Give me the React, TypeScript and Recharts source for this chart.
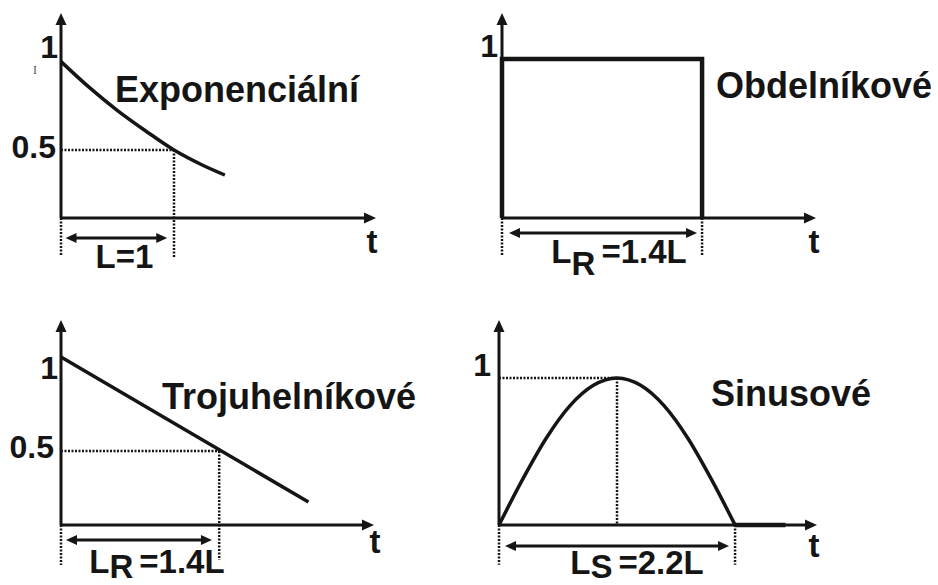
import { Line, LineChart, ReferenceLine, XAxis, YAxis } from "recharts";

const INK = "#151515";
const FONT = "'Liberation Sans', Arial, Helvetica, sans-serif";

// Exponenciální
const expT = [0, 0.25, 0.5, 0.75, 1, 1.25, 1.45];
const expV = [1.15, 0.96, 0.79, 0.64, 0.5, 0.39, 0.316];
// Obdelníkové
const rectT = [0, 0, 1.4, 1.4];
const rectV = [0, 1.17, 1.17, 0];
// Trojuhelníkové
const triT = [0, 2.19];
const triV = [1.135, 0.155];
// Sinusové
const sinT = [0, 0.22, 0.44, 0.66, 0.88, 1.1, 1.32, 1.54, 1.76, 1.98, 2.2];
const sinV = [0, 0.31, 0.59, 0.81, 0.95, 1, 0.95, 0.81, 0.59, 0.31, 0];
const tailT = [2.2, 2.67];
const tailV = [0, 0];

const titles = ["Exponenciální", "Obdelníkové", "Trojuhelníkové", "Sinusové"];
const tickOne = "1";
const tickHalf = "0.5";
const axisName = "t";

type Pt = { x: number; y: number };
type Row = { t: number; v?: number; w?: number };
type TickLabel = { value: number; text: string; dx: number; dy: number };
type DimText = { main: string; sub: string; rest: string; dx: number; dy: number; subDy: number };

type Panel = {
  box: { left: number; top: number; w: number; h: number };
  ox: number;
  oy: number;
  tipX: number;
  tipY: number;
  sx: number;
  sy: number;
  data: Row[];
  curve: "monotone" | "linear";
  lineWidth: number;
  ticks: TickLabel[];
  dotted: [Pt, Pt][];
  dim: { y: number; x1: number; x2: number; text: DimText };
  tPos: { dx: number; dy: number };
};

const zip = (ts: number[], vs: number[]): Row[] => ts.map((t, i) => ({ t, v: vs[i] }));
const zipTail = (ts: number[], vs: number[]): Row[] => ts.map((t, i) => ({ t, w: vs[i] }));

const head = (x: number, y: number, ux: number, uy: number, len = 11, half = 5) => {
  const bx = x - ux * len;
  const by = y - uy * len;
  const px = -uy * half;
  const py = ux * half;
  return `${x},${y} ${bx + px},${by + py} ${bx - px},${by - py}`;
};

function AxisArrow(p: any) {
  const { x1, y1, x2, y2, name, tdx, tdy } = p;
  const d = Math.hypot(x2 - x1, y2 - y1) || 1;
  const ux = (x2 - x1) / d;
  const uy = (y2 - y1) / d;
  return (
    <g>
      <line x1={x1} y1={y1} x2={x2 - ux * 8} y2={y2 - uy * 8} stroke={INK} strokeWidth={3} />
      <polygon points={head(x2, y2, ux, uy, 12, 5.5)} fill={INK} />
      {name ? (
        <text x={x2 + tdx} y={y2 + tdy} textAnchor="middle" fontFamily={FONT} fontWeight={700} fontSize={33} fill={INK}>
          {name}
        </text>
      ) : null}
    </g>
  );
}

function DimArrow(p: any) {
  const { x1, y1, x2, y2, txt } = p;
  const t = txt as DimText;
  const cx = (x1 + x2) / 2;
  return (
    <g>
      <line x1={x1 + 8} y1={y1} x2={x2 - 8} y2={y2} stroke={INK} strokeWidth={3} />
      <polygon points={head(x1, y1, -1, 0, 11, 5)} fill={INK} />
      <polygon points={head(x2, y2, 1, 0, 11, 5)} fill={INK} />
      <text x={cx + t.dx} y={y1 + t.dy} textAnchor="middle" fontFamily={FONT} fontWeight={700} fontSize={33} fill={INK}>
        {t.main}
        {t.sub ? <tspan dy={t.subDy}>{t.sub}</tspan> : null}
        <tspan dy={t.sub ? -t.subDy : 0} dx={t.sub ? 6 : 0}>
          {t.rest}
        </tspan>
      </text>
    </g>
  );
}

const makeTick = (labels: TickLabel[]) => (p: any) => {
  const lab = labels.find((l) => Math.abs(l.value - p.payload.value) < 1e-6);
  if (!lab) return <g />;
  return (
    <text x={p.x + lab.dx} y={p.y + lab.dy} textAnchor="end" fontFamily={FONT} fontWeight={700} fontSize={32} fill={INK}>
      {lab.text}
    </text>
  );
};

const panels: Panel[] = [
  {
    box: { left: 0, top: 0, w: 469, h: 292 },
    ox: 61, oy: 218, tipX: 376, tipY: 13, sx: 113, sy: 136,
    data: zip(expT, expV),
    curve: "monotone",
    lineWidth: 3.5,
    ticks: [
      { value: expV[0], text: tickOne, dx: -3, dy: -4 },
      { value: 0.5, text: tickHalf, dx: -5, dy: 8 },
    ],
    dotted: [
      [{ x: 0, y: 0.5 }, { x: 1, y: 0.5 }],
      [{ x: 1, y: 0.5 }, { x: 1, y: -0.29 }],
      [{ x: 0, y: 0 }, { x: 0, y: -0.28 }],
    ],
    dim: { y: -0.147, x1: 0.04, x2: 0.94, text: { main: "L=1", sub: "", rest: "", dx: 8, dy: 30, subDy: 0 } },
    tPos: { dx: -4, dy: 35 },
  },
  {
    box: { left: 469, top: 0, w: 469, h: 292 },
    ox: 502, oy: 218, tipX: 816, tipY: 13, sx: 142.9, sy: 136,
    data: zip(rectT, rectV),
    curve: "linear",
    lineWidth: 4.5,
    ticks: [{ value: rectV[1], text: tickOne, dx: -4, dy: -2 }],
    dotted: [
      [{ x: 0, y: 0 }, { x: 0, y: -0.28 }],
      [{ x: 1.4, y: 0 }, { x: 1.4, y: -0.28 }],
    ],
    dim: { y: -0.11, x1: 0.049, x2: 1.365, text: { main: "L", sub: "R", rest: "=1.4L", dx: 16, dy: 30, subDy: 12 } },
    tPos: { dx: -2, dy: 35 },
  },
  {
    box: { left: 0, top: 292, w: 469, h: 293 },
    ox: 61, oy: 525, tipX: 374, tipY: 320, sx: 113, sy: 148,
    data: zip(triT, triV),
    curve: "linear",
    lineWidth: 3.5,
    ticks: [
      { value: triV[0], text: tickOne, dx: -3, dy: 22 },
      { value: 0.5, text: tickHalf, dx: -7, dy: 7 },
    ],
    dotted: [
      [{ x: 0, y: 0.5 }, { x: 1.4, y: 0.5 }],
      [{ x: 1.4, y: 0.5 }, { x: 1.4, y: -0.236 }],
      [{ x: 0, y: 0 }, { x: 0, y: -0.27 }],
    ],
    dim: { y: -0.101, x1: 0.044, x2: 1.336, text: { main: "L", sub: "R", rest: "=1.4L", dx: 18, dy: 33, subDy: 5 } },
    tPos: { dx: 1, dy: 28 },
  },
  {
    box: { left: 469, top: 292, w: 469, h: 293 },
    ox: 499, oy: 525, tipX: 817, tipY: 320, sx: 107.3, sy: 147,
    data: [...zip(sinT, sinV), ...zipTail(tailT, tailV)],
    curve: "monotone",
    lineWidth: 3.5,
    ticks: [{ value: 1, text: tickOne, dx: -8, dy: -2 }],
    dotted: [
      [{ x: 0, y: 1 }, { x: 1.1, y: 1 }],
      [{ x: 1.1, y: 1 }, { x: 1.1, y: 0 }],
      [{ x: 0, y: 0 }, { x: 0, y: -0.27 }],
      [{ x: 2.2, y: 0 }, { x: 2.2, y: -0.27 }],
    ],
    dim: { y: -0.143, x1: 0.056, x2: 2.144, text: { main: "L", sub: "S", rest: "=2.2L", dx: 20, dy: 28, subDy: 4 } },
    tPos: { dx: -3, dy: 32 },
  },
];

function PanelChart({ cfg }: { cfg: Panel }) {
  const { box, ox, oy, tipX, tipY, sx, sy } = cfg;
  const xMax = (tipX - ox) / sx;
  const yMax = (oy - tipY) / sy;
  const margin = {
    top: tipY - box.top,
    bottom: box.top + box.h - oy,
    right: box.left + box.w - tipX,
    left: 0,
  };
  const hasTail = cfg.data.some((r) => r.w !== undefined);
  return (
    <div style={{ position: "absolute", left: box.left, top: box.top }}>
      <LineChart width={box.w} height={box.h} data={cfg.data} margin={margin}>
        <XAxis type="number" dataKey="t" domain={[0, xMax]} ticks={[0]} hide />
        <YAxis
          type="number"
          domain={[0, yMax]}
          ticks={cfg.ticks.map((t) => t.value)}
          interval={0}
          width={ox - box.left}
          axisLine={false}
          tickLine={false}
          tickSize={0}
          tickMargin={0}
          tick={makeTick(cfg.ticks)}
        />
        {cfg.dotted.map((seg, i) => (
          <ReferenceLine
            key={i}
            segment={seg}
            ifOverflow="visible"
            stroke={INK}
            strokeWidth={2.5}
            strokeDasharray="2 1.5"
          />
        ))}
        <ReferenceLine
          segment={[{ x: 0, y: 0 }, { x: xMax, y: 0 }]}
          ifOverflow="visible"
          shape={(p: any) => <AxisArrow {...p} name={axisName} tdx={cfg.tPos.dx} tdy={cfg.tPos.dy} />}
        />
        <ReferenceLine
          segment={[{ x: 0, y: 0 }, { x: 0, y: yMax }]}
          ifOverflow="visible"
          shape={(p: any) => <AxisArrow {...p} />}
        />
        <ReferenceLine
          segment={[{ x: cfg.dim.x1, y: cfg.dim.y }, { x: cfg.dim.x2, y: cfg.dim.y }]}
          ifOverflow="visible"
          shape={(p: any) => <DimArrow {...p} txt={cfg.dim.text} />}
        />
        <Line
          type={cfg.curve}
          dataKey="v"
          stroke={INK}
          strokeWidth={cfg.lineWidth}
          dot={false}
          activeDot={false}
          connectNulls={false}
          isAnimationActive={false}
        />
        {hasTail ? (
          <Line
            type="linear"
            dataKey="w"
            stroke={INK}
            strokeWidth={4.5}
            dot={false}
            activeDot={false}
            connectNulls={false}
            isAnimationActive={false}
          />
        ) : null}
      </LineChart>
    </div>
  );
}

const titlePos = [
  { x: 115, y: 102 },
  { x: 716, y: 98 },
  { x: 162, y: 409 },
  { x: 711, y: 406 },
];

export default function App() {
  return (
    <div style={{ position: "fixed", left: 0, top: 0, width: 938, height: 585, background: "#fff", overflow: "hidden" }}>
      {panels.map((p, i) => (
        <PanelChart key={i} cfg={p} />
      ))}
      <svg width={938} height={585} style={{ position: "absolute", left: 0, top: 0, pointerEvents: "none" }}>
        {titles.map((t, i) => (
          <text key={t} x={titlePos[i].x} y={titlePos[i].y} fontFamily={FONT} fontWeight={700} fontSize={36} fill={INK}>
            {t}
          </text>
        ))}
        <text x={35} y={74} fontFamily="serif" fontSize={12} fill="#555" textAnchor="middle">
          I
        </text>
      </svg>
    </div>
  );
}
